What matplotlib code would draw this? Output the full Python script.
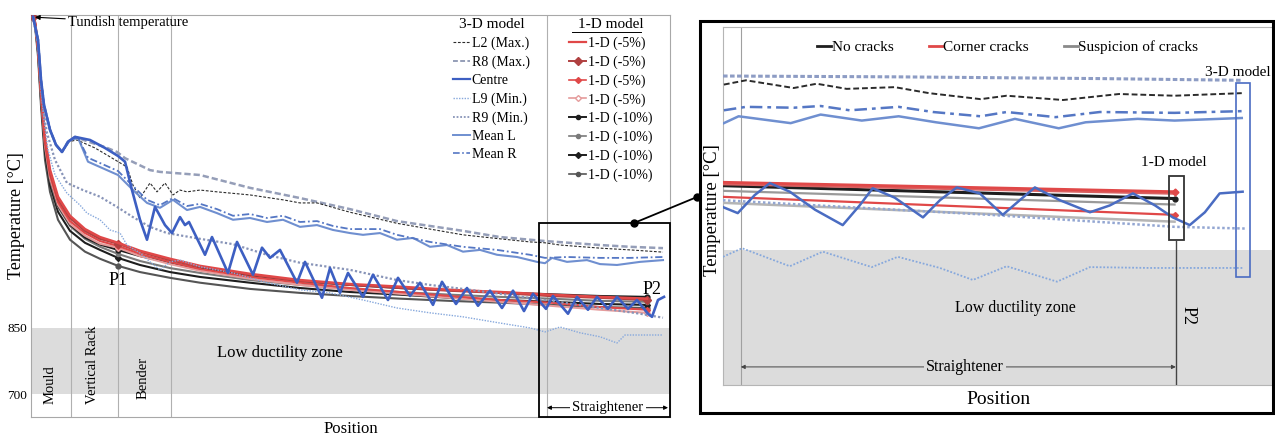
import matplotlib.pyplot as plt
from matplotlib.lines import Line2D
from matplotlib.patches import Rectangle

plt.rcParams['font.family'] = ['Liberation Serif', 'DejaVu Serif']

# ---------------- left panel: whole strand (position a.u., temperature degC)
centre_x = [2, 7, 10, 13, 19, 25, 31, 37, 44, 59, 74, 87, 94, 101, 109, 116, 124, 134, 141, 149,
            154, 158, 174, 181, 197, 206, 222, 231, 239, 249, 266, 274, 291, 299, 309, 317, 332, 342, 357, 367,
            379, 389, 402, 411, 425, 436, 447, 459, 471, 482, 493, 502, 515, 522, 537, 546, 557, 566, 577, 586,
            597, 606, 617, 621, 627, 633]
centre_t = [1552, 1500, 1410, 1353, 1297, 1263, 1247, 1270, 1281, 1274, 1256, 1238, 1225, 1161, 1094, 1049, 1123, 1082, 1064, 1100,
            1082, 1089, 1015, 1055, 974, 1044, 970, 1031, 1008, 1026, 952, 999, 918, 985, 929, 974, 920, 970, 913, 963,
            922, 952, 902, 954, 904, 940, 900, 934, 895, 934, 888, 927, 893, 922, 882, 920, 891, 920, 893, 920,
            893, 913, 882, 875, 913, 920]

mean_l_x = [2, 7, 10, 13, 19, 25, 31, 39, 47, 57, 69, 87, 102, 116, 129, 142, 156, 169, 186, 202,
            219, 236, 252, 269, 286, 302, 319, 332, 349, 366, 382, 399, 416, 432, 449, 466, 486, 506, 514, 521,
            536, 556, 569, 586, 609, 632]
mean_l_t = [1552, 1500, 1410, 1353, 1297, 1263, 1247, 1274, 1279, 1225, 1213, 1195, 1161, 1132, 1121, 1139, 1116, 1123, 1109, 1094,
            1098, 1089, 1094, 1078, 1082, 1071, 1064, 1060, 1064, 1049, 1053, 1033, 1037, 1022, 1026, 1015, 1010, 999, 996, 1008,
            999, 1003, 994, 992, 999, 1003]

mean_r_x = [2, 7, 10, 13, 19, 25, 31, 39, 47, 57, 69, 87, 102, 116, 129, 142, 156, 169, 186, 202,
            219, 236, 252, 269, 286, 302, 319, 349, 366, 399, 432, 466, 499, 514, 536, 569, 599, 632]
mean_r_t = [1552, 1500, 1410, 1353, 1297, 1263, 1247, 1274, 1279, 1234, 1222, 1204, 1170, 1139, 1127, 1143, 1125, 1130, 1118, 1103,
            1107, 1098, 1103, 1089, 1091, 1080, 1073, 1073, 1060, 1044, 1033, 1026, 1015, 1008, 1010, 1008, 1008, 1010]

r8_x = [2, 7, 10, 13, 19, 25, 31, 37, 44, 59, 74, 86, 94, 119, 129, 169, 219, 269, 319, 366,
        399, 432, 469, 499, 514, 569, 599, 632]
r8_t = [1552, 1500, 1410, 1353, 1297, 1263, 1247, 1270, 1281, 1269, 1258, 1247, 1233, 1206, 1202, 1195, 1166, 1143, 1118, 1091,
        1080, 1069, 1055, 1049, 1046, 1037, 1033, 1030]

l2_x = [2, 7, 10, 13, 19, 25, 31, 37, 46, 64, 79, 96, 102, 109, 119, 126, 134, 142, 149, 156,
        169, 186, 219, 252, 269, 286, 319, 366, 399, 432, 469, 499, 514, 529, 569, 599, 632]
l2_t = [1552, 1500, 1410, 1353, 1297, 1263, 1247, 1270, 1274, 1256, 1236, 1213, 1172, 1143, 1177, 1157, 1177, 1150, 1161, 1157,
        1161, 1157, 1150, 1139, 1132, 1132, 1111, 1086, 1073, 1060, 1051, 1044, 1042, 1037, 1030, 1026, 1021]

r9_x = [2, 7, 10, 13, 16, 24, 36, 52, 69, 86, 102, 119, 136, 169, 202, 236, 269, 319, 366, 399,
        432, 469, 514, 569, 609, 632]
r9_t = [1552, 1489, 1398, 1331, 1290, 1229, 1177, 1161, 1146, 1123, 1100, 1078, 1064, 1051, 1039, 1015, 997, 981, 958, 947,
        938, 927, 913, 895, 882, 873]

l9_x = [2, 7, 10, 13, 17, 24, 36, 49, 56, 69, 79, 89, 96, 109, 119, 129, 139, 149, 169, 202,
        236, 269, 299, 332, 366, 399, 432, 469, 499, 514, 529, 549, 569, 586, 594, 632]
l9_t = [1552, 1489, 1387, 1319, 1252, 1195, 1154, 1127, 1109, 1094, 1071, 1064, 1037, 1019, 999, 981, 999, 1003, 988, 974,
        952, 936, 929, 913, 895, 884, 875, 861, 850, 841, 852, 839, 830, 816, 834, 834]

oned_x = [2, 4, 7, 10, 14, 19, 27, 39, 54, 69, 87, 109, 139, 169, 219, 269, 319, 369, 419, 469, 519, 569, 616]
oned_m5_a = [1552, 1540, 1489, 1392, 1279, 1207, 1146, 1103, 1073, 1055, 1042, 1024, 1006, 990, 972, 958, 949, 943, 936, 931, 925, 920, 916]
oned_m5_b = [1552, 1540, 1486, 1387, 1274, 1202, 1141, 1098, 1069, 1051, 1040, 1022, 1003, 988, 970, 956, 947, 940, 934, 929, 922, 918, 913]
oned_m5_c = [1552, 1538, 1482, 1380, 1267, 1195, 1134, 1091, 1064, 1046, 1035, 1017, 999, 983, 965, 952, 940, 931, 922, 913, 907, 897, 891]
oned_m5_d = [1552, 1538, 1477, 1373, 1261, 1188, 1128, 1085, 1058, 1040, 1031, 1012, 994, 979, 961, 947, 936, 927, 918, 909, 900, 891, 884]
oned_m10_a = [1552, 1539, 1482, 1378, 1262, 1188, 1126, 1083, 1054, 1038, 1026, 1012, 997, 984, 969, 956, 947, 940, 935, 930, 926, 922, 920]
oned_m10_b = [1552, 1538, 1479, 1375, 1258, 1184, 1123, 1080, 1051, 1033, 1017, 1001, 985, 974, 958, 947, 938, 931, 925, 920, 916, 911, 909]
oned_m10_c = [1552, 1535, 1473, 1364, 1247, 1173, 1112, 1069, 1042, 1026, 1008, 992, 976, 965, 952, 940, 931, 925, 918, 913, 909, 904, 902]
oned_m10_d = [1552, 1533, 1463, 1351, 1229, 1157, 1094, 1049, 1022, 1006, 990, 976, 963, 952, 938, 929, 922, 916, 911, 907, 902, 897, 895]

zone_lines = [40, 87, 140, 516]
zone_names = ['Mould', 'Vertical Rack', 'Bender']

# ---------------- right panel: straightener detail
zoom_oned_x = [511.6, 615.7]
zoom_red_a = [929, 918]
zoom_red_b = [927, 916]
zoom_black = [925, 910]
zoom_grey_a = [919, 903]
zoom_red_c = [912, 891]
zoom_grey_b = [905, 883]

zoom_centre_x = [511.6, 515.0, 518.9, 522.4, 527.0, 532.8, 539.2, 543.1, 546.1, 551.2, 557.7, 561.6, 565.5, 570.8,
                 576.1, 580.0, 583.5, 589.3, 596.2, 600.8, 606.1, 611.2, 615.3, 619.2, 622.7, 626.1, 631.4]
zoom_centre_t = [900, 893, 914, 928, 918, 897, 879, 902, 922, 911, 888, 908, 923, 916,
                 891, 908, 923, 908, 894, 902, 916, 902, 888, 879, 894, 916, 918]
zoom_l9_x = [511.6, 516.0, 527.0, 534.6, 545.9, 551.9, 561.6, 569.2, 577.0, 588.6, 596.2, 610.0, 631.4]
zoom_l9_t = [842, 852, 831, 848, 830, 842, 829, 815, 831, 813, 830, 829, 829]
zoom_r9_x = [511.6, 573.1, 615.7, 631.9]
zoom_r9_t = [908, 891, 877, 875]
zoom_r8_x = [511.6, 552.4, 598.5, 631.2]
zoom_r8_t = [1053, 1052, 1050, 1048]
zoom_l2_x = [511.8, 516.9, 527.9, 533.2, 540.1, 551.2, 559.1, 571.0, 577.0, 590.0, 602.9, 615.7, 631.2]
zoom_l2_t = [1043, 1048, 1039, 1044, 1038, 1040, 1033, 1026, 1030, 1025, 1032, 1030, 1033]
zoom_mean_r_x = [511.8, 516.9, 527.9, 534.1, 540.8, 552.1, 560.0, 571.0, 577.0, 588.3, 598.5, 615.7, 631.2]
zoom_mean_r_t = [1013, 1017, 1016, 1018, 1013, 1017, 1011, 1006, 1011, 1005, 1011, 1010, 1012]
zoom_mean_l_x = [511.8, 515.2, 527.2, 534.1, 543.6, 552.1, 560.7, 570.6, 578.9, 589.0, 595.2, 607.2, 615.7, 631.2]
zoom_mean_l_t = [998, 1006, 998, 1008, 1001, 1006, 999, 992, 1003, 992, 999, 1003, 1001, 1004]

# colours / styles
C_CENTRE = '#3d5fc2'
C_MEANL = '#6f8fd0'
C_MEANR = '#5577c4'
C_L9 = '#86a8dc'
C_R9 = '#8894b8'
C_R8 = '#959eb8'
C_L2 = '#2b2b2b'
C_RED = '#e04848'
C_PINK = '#e59b9b'
C_BLK = '#1e1e1e'
C_GRY = '#7a7a7a'
BAND = '#dcdcdc'
SPINE = '#a8a8a8'

fig = plt.figure(figsize=(12.75, 4.36), dpi=100)

# ======================= left panel
ax = fig.add_axes([0.02431, 0.04358, 0.50118, 0.92202])
ax.set_xlim(0, 639)
ax.set_ylim(649, 1556)
ax.axhspan(700, 850, color=BAND, lw=0, zorder=0)
for xv in zone_lines:
    ax.axvline(xv, color='#b0b0b0', lw=0.8, zorder=1)

mk = [0, 10, 22]
ax.plot(oned_x, oned_m10_d, color='#555555', lw=1.5, marker='o', ms=3.5, markevery=mk, zorder=3)
ax.plot(oned_x, oned_m10_c, color=C_BLK, lw=1.5, marker='D', ms=3, markevery=mk, zorder=3)
ax.plot(oned_x, oned_m10_b, color=C_GRY, lw=1.5, marker='o', ms=3, markevery=mk, zorder=3)
ax.plot(oned_x, oned_m10_a, color=C_BLK, lw=1.5, marker='o', ms=3.5, markevery=mk, zorder=3)
ax.plot(oned_x, oned_m5_d, color=C_PINK, lw=1.5, marker='D', ms=3, mfc='white', markevery=mk, zorder=3)
ax.plot(oned_x, oned_m5_c, color=C_RED, lw=1.5, marker='D', ms=3, markevery=mk, zorder=3)
ax.plot(oned_x, oned_m5_b, color='#b04040', lw=1.6, marker='D', ms=4, markevery=mk, zorder=3)
ax.plot(oned_x, oned_m5_a, color=C_RED, lw=1.8, zorder=3)

ax.plot(l9_x, l9_t, color=C_L9, lw=1.0, ls=(0, (1, 1)), zorder=4)
ax.plot(r9_x, r9_t, color=C_R9, lw=1.6, ls=(0, (1, 1)), zorder=4)
ax.plot(r8_x, r8_t, color=C_R8, lw=1.8, ls=(0, (2.5, 1.2)), zorder=4)
ax.plot(l2_x, l2_t, color=C_L2, lw=0.8, ls=(0, (2.5, 1.5)), zorder=4)
ax.plot(mean_l_x, mean_l_t, color=C_MEANL, lw=1.5, zorder=4)
ax.plot(mean_r_x, mean_r_t, color=C_MEANR, lw=1.3, ls=(0, (4, 1.5, 1, 1.5)), zorder=4)
ax.plot(centre_x, centre_t, color=C_CENTRE, lw=1.9, zorder=5)

ax.set_xticks([])
ax.set_yticks([700, 850])
ax.tick_params(axis='y', length=0, labelsize=9.5, pad=3)
for s in ax.spines.values():
    s.set_color(SPINE)
    s.set_linewidth(0.8)
ax.set_xlabel('Position', fontsize=12, labelpad=3)
ax.set_ylabel('Temperature [°C]', fontsize=13)
ax.yaxis.set_label_coords(-0.009, 0.5)

for name, x0, yv in zip(zone_names, [19, 62, 112], [721, 766, 737]):
    ax.text(x0, yv, name, rotation=90, ha='center', va='center', fontsize=10.5)
ax.text(249, 794, 'Low ductility zone', ha='center', va='center', fontsize=12)
ax.text(87, 958, 'P1', ha='center', va='center', fontsize=13)
ax.text(621, 936, 'P2', ha='center', va='center', fontsize=13)
ax.annotate('Tundish temperature', xy=(4, 1551), xytext=(37, 1540), fontsize=10.5, va='center',
            arrowprops=dict(arrowstyle='-|>', color='black', lw=0.8, mutation_scale=7, shrinkA=0, shrinkB=0))

ax.add_patch(Rectangle((508, 649), 131, 438, fill=False, ec='black', lw=1.3, zorder=6, clip_on=False))
ax.annotate('', xy=(516, 670), xytext=(637, 670),
            arrowprops=dict(arrowstyle='<|-|>', color='black', lw=0.7, mutation_scale=6, shrinkA=0, shrinkB=0))
ax.text(577, 670, 'Straightener', ha='center', va='center', fontsize=10.5,
        bbox=dict(fc='white', ec='none', pad=1.5))

h3 = [Line2D([], [], color=C_L2, lw=0.8, ls=(0, (2.5, 1.5)), label='L2 (Max.)'),
      Line2D([], [], color=C_R8, lw=1.4, ls=(0, (2.5, 1.2)), label='R8 (Max.)'),
      Line2D([], [], color=C_CENTRE, lw=1.6, label='Centre'),
      Line2D([], [], color=C_L9, lw=1.0, ls=(0, (1, 1)), label='L9 (Min.)'),
      Line2D([], [], color=C_R9, lw=1.3, ls=(0, (1, 1)), label='R9 (Min.)'),
      Line2D([], [], color=C_MEANL, lw=1.4, label='Mean L'),
      Line2D([], [], color=C_MEANR, lw=1.2, ls=(0, (4, 1.5, 1, 1.5)), label='Mean R')]
leg1 = ax.legend(handles=h3, title='3-D model', loc='upper left', bbox_to_anchor=(0.655, 1.0),
                 frameon=False, fontsize=10, title_fontsize=11, handlelength=1.2, handletextpad=0.15,
                 labelspacing=0.38, borderpad=0.25, borderaxespad=0)
ax.add_artist(leg1)
h1 = [Line2D([], [], color=C_RED, lw=1.6, label='1-D (-5%)'),
      Line2D([], [], color='#b04040', lw=1.4, marker='D', ms=4, label='1-D (-5%)'),
      Line2D([], [], color=C_RED, lw=1.2, marker='D', ms=3, label='1-D (-5%)'),
      Line2D([], [], color=C_PINK, lw=1.2, marker='D', ms=3, mfc='white', label='1-D (-5%)'),
      Line2D([], [], color=C_BLK, lw=1.4, marker='o', ms=3, label='1-D (-10%)'),
      Line2D([], [], color=C_GRY, lw=1.2, marker='o', ms=3, label='1-D (-10%)'),
      Line2D([], [], color=C_BLK, lw=1.4, marker='D', ms=3, label='1-D (-10%)'),
      Line2D([], [], color='#555555', lw=1.2, marker='o', ms=3, label='1-D (-10%)')]
leg2 = ax.legend(handles=h1, title='1-D model', loc='upper left', bbox_to_anchor=(0.837, 1.0),
                 frameon=False, fontsize=10, title_fontsize=11, handlelength=1.2, handletextpad=0.15,
                 labelspacing=0.38, borderpad=0.25, borderaxespad=0)
ax.plot([0.847, 0.955], [0.958, 0.958], transform=ax.transAxes, color='black', lw=0.7)

# ======================= right panel
ax2 = fig.add_axes([0.56706, 0.11697, 0.43137, 0.82110])
ax2.set_xlim(511.6, 638.4)
ax2.set_ylim(692.4, 1110.2)
ax2.axhspan(692.4, 850, color=BAND, lw=0, zorder=0)
ax2.axvline(515.7, color='#a0a0a0', lw=0.8, zorder=1)

ax2.plot(zoom_oned_x, zoom_grey_b, color='#b5b5b5', lw=1.8, zorder=3)
ax2.plot(zoom_oned_x, zoom_red_c, color=C_RED, lw=1.6, marker='D', ms=3, markevery=[1], zorder=3)
ax2.plot(zoom_oned_x, zoom_grey_a, color='#9a9a9a', lw=1.6, zorder=3)
ax2.plot(zoom_oned_x, zoom_black, color=C_BLK, lw=2.2, marker='o', ms=3.5, markevery=[1], zorder=3)
ax2.plot(zoom_oned_x, zoom_red_b, color='#d96060', lw=2.0, zorder=3)
ax2.plot(zoom_oned_x, zoom_red_a, color=C_RED, lw=2.0, marker='D', ms=3.5, markevery=[1], zorder=3)

ax2.plot(zoom_r9_x, zoom_r9_t, color='#93a6d2', lw=1.8, ls=(0, (1, 1)), zorder=4)
ax2.plot(zoom_l9_x, zoom_l9_t, color=C_L9, lw=1.3, ls=(0, (1, 1)), zorder=4)
ax2.plot(zoom_r8_x, zoom_r8_t, color='#8d9cc4', lw=2.2, ls=(0, (1.5, 0.8)), zorder=4)
ax2.plot(zoom_l2_x, zoom_l2_t, color=C_L2, lw=1.4, ls=(0, (3, 1.5)), zorder=4)
ax2.plot(zoom_mean_r_x, zoom_mean_r_t, color=C_MEANR, lw=1.8, ls=(0, (5, 2, 1.5, 2)), zorder=4)
ax2.plot(zoom_mean_l_x, zoom_mean_l_t, color=C_MEANL, lw=1.8, zorder=4)
ax2.plot(zoom_centre_x, zoom_centre_t, color='#4a6cc2', lw=1.8, zorder=5)

ax2.add_patch(Rectangle((629.8, 818.5), 3.3, 226.4, fill=False, ec='#4a6cc2', lw=1.2, zorder=6))
ax2.add_patch(Rectangle((614.4, 861.7), 3.4, 74.7, fill=False, ec='#333333', lw=1.3, zorder=6))
ax2.plot([616, 616], [692.4, 861.7], color='#444444', lw=1.0, zorder=6)
ax2.text(630.3, 1057, '3-D model', ha='center', va='center', fontsize=11)
ax2.text(615.5, 952, '1-D model', ha='center', va='center', fontsize=11)
ax2.text(618.9, 774, 'P2', rotation=270, ha='center', va='center', fontsize=13)
ax2.text(578.9, 782, 'Low ductility zone', ha='center', va='center', fontsize=11.5)
ax2.annotate('', xy=(515.7, 713.5), xytext=(616, 713.5),
             arrowprops=dict(arrowstyle='<|-|>', color='#444444', lw=0.7, mutation_scale=6, shrinkA=0, shrinkB=0))
ax2.text(567.3, 713.5, 'Straightener', ha='center', va='center', fontsize=11.5,
         bbox=dict(fc=BAND, ec='none', pad=1.5))

hr = [Line2D([], [], color=C_BLK, lw=2, label='No cracks'),
      Line2D([], [], color=C_RED, lw=2, label='Corner cracks'),
      Line2D([], [], color='#8a8a8a', lw=2, label='Suspicion of cracks')]
ax2.legend(handles=hr, loc='center', bbox_to_anchor=(0.518, 0.944), ncol=3, frameon=False,
           fontsize=11, handlelength=0.9, handletextpad=0.05, columnspacing=2.3)

ax2.set_xticks([])
ax2.set_yticks([])
for s in ax2.spines.values():
    s.set_color('#b5b5b5')
    s.set_linewidth(0.8)
ax2.set_xlabel('Position', fontsize=14, labelpad=4)
ax2.set_ylabel('Temperature [°C]', fontsize=13.5)
ax2.yaxis.set_label_coords(-0.003, 0.49)

# frame round the detail and the connector
fig.add_artist(Rectangle((700 / 1275, 23 / 436), 573 / 1275, 392 / 436, transform=fig.transFigure,
                         fill=False, ec='black', lw=2.2))
fig.add_artist(Line2D([634 / 1275, 697 / 1275], [1 - 223 / 436, 1 - 197 / 436], transform=fig.transFigure,
                      color='black', lw=1.3, marker='o', ms=5))

fig.savefig('out.png', dpi=100)
